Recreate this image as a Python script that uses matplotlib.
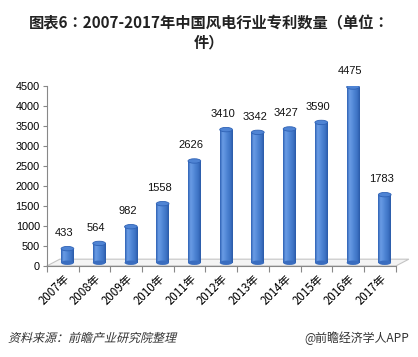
import numpy as np
import matplotlib
matplotlib.use('Agg')
import matplotlib.pyplot as plt
from matplotlib import patches
from matplotlib.colors import LinearSegmentedColormap
from matplotlib.textpath import TextPath
from matplotlib.font_manager import FontProperties
from matplotlib.transforms import Affine2D

plt.rcParams['font.family'] = ['Noto Sans CJK SC', 'DejaVu Sans']

years = ['2007年', '2008年', '2009年', '2010年', '2011年', '2012年',
         '2013年', '2014年', '2015年', '2016年', '2017年']
patents = [433, 564, 982, 1558, 2626, 3410, 3342, 3427, 3590, 4475, 1783]
y_ticks = [0, 500, 1000, 1500, 2000, 2500, 3000, 3500, 4000, 4500]

fig = plt.figure(figsize=(4.18, 3.57), dpi=100)
ax = fig.add_axes([0.112, 0.255, 0.835, 0.504])

# cylinder shading, left -> highlight -> right
cyl = LinearSegmentedColormap.from_list(
    'cyl', ['#2f62b5', '#6a9ce4', '#5a8fdc', '#4a80d0', '#3e73c4', '#2a5aa8'])
grad = np.linspace(0, 1, 64).reshape(1, -1)

# floor of the 3d chart
floor = patches.Polygon([(-0.5, 0), (-0.09, 170), (10.91, 170), (10.5, 0)],
                        closed=True, fc='#f4f4f4', ec='#c4c4c4', lw=0.8,
                        zorder=1, clip_on=False)
ax.add_patch(floor)

off = 0.15
w = 0.40
eh = 110
base = 80
for i, v in enumerate(patents):
    x0 = i + off - w / 2
    rect = patches.Rectangle((x0, base), w, v - base, fc='none', ec='none')
    ax.add_patch(rect)
    im = ax.imshow(grad, cmap=cyl, aspect='auto',
                   extent=(x0, x0 + w, base, v), zorder=2)
    im.set_clip_path(rect)
    bot = patches.Ellipse((i + off, base), w, eh, fc='#3a6dbf', ec='none', zorder=2)
    ax.add_patch(bot)
    top = patches.Ellipse((i + off, v), w, eh, fc='#4f84d4', ec='#2f62b5',
                          lw=0.6, zorder=3)
    ax.add_patch(top)
    ax.text(i + 0.05, v + 270, str(v), ha='center', va='bottom', fontsize=8,
            color='#111111', family=['Liberation Sans'])

ax.set_xlim(-0.5, 10.5)
ax.set_ylim(0, 4500)
ax.set_yticks(y_ticks)
ax.set_yticklabels([str(t) for t in y_ticks], fontsize=7.8, family=['Liberation Sans'])
ax.set_xticks(np.arange(-0.5, 11, 1))
ax.set_xticklabels([])
ax.set_xticks(np.arange(11), minor=True)
ax.set_xticklabels(years, minor=True, rotation=45, ha='right',
                   rotation_mode='anchor', fontsize=8.3)
ax.tick_params(axis='x', which='minor', length=0, pad=4)
ax.tick_params(axis='x', which='major', length=4, color='#888888')
ax.tick_params(axis='y', length=3, color='#888888', pad=2)
for s in ['top', 'right']:
    ax.spines[s].set_visible(False)
ax.spines['left'].set_color('#888888')
ax.spines['bottom'].set_color('#888888')
ax.spines['left'].set_linewidth(0.8)
ax.spines['bottom'].set_linewidth(0.8)
ax.patch.set_alpha(0)

fig.text(0.5, 0.935, '图表6：2007-2017年中国风电行业专利数量（单位：',
         ha='center', va='center', fontsize=11, fontweight='bold', color='#222222',
         family=['Noto Sans CJK TC', 'DejaVu Sans'])
fig.text(0.5, 0.88, '件）', ha='center', va='center', fontsize=11,
         fontweight='bold', color='#222222',
         family=['Noto Sans CJK TC', 'DejaVu Sans'])

# slanted source note (the CJK font has no italic); size here is in pixels
fp = FontProperties(family='Noto Sans CJK SC', size=12)
tp = TextPath((0, 0), '资料来源：前瞻产业研究院整理', prop=fp)
tr = Affine2D().skew_deg(14, 0).translate(8, 15)
src = patches.PathPatch(tr.transform_path(tp), fc='#333333', ec='none',
                        transform=None)
fig.add_artist(src)

fig.text(0.978, 0.053, '@前瞻经济学人APP', ha='right', va='center',
         fontsize=8.6, color='#333333')

fig.savefig('out.png', dpi=100)
